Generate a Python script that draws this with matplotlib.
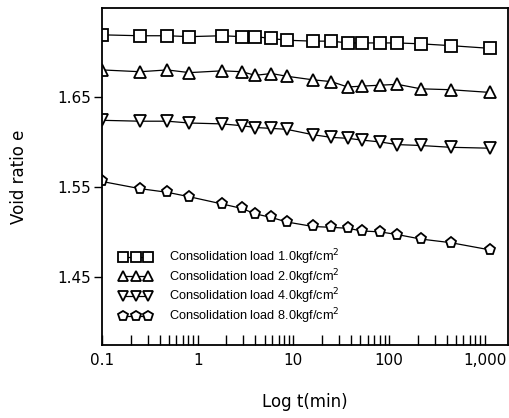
### void ratio vs log time for four consolidation loads
import matplotlib
matplotlib.use('Agg')
import matplotlib.pyplot as plt
from matplotlib.ticker import LogLocator, FixedLocator, NullFormatter

### elapsed time [min]
t_min = [0.1, 0.25, 0.48, 0.82, 1.8, 2.9, 4.0, 5.9, 8.5,
         16, 25, 37, 52, 80, 122, 215, 440, 1130]

### void ratio e for each load
e_load1 = [1.719, 1.718, 1.718, 1.717, 1.718, 1.717, 1.717, 1.715, 1.713,
           1.712, 1.712, 1.710, 1.710, 1.710, 1.710, 1.709, 1.707, 1.704]
e_load2 = [1.680, 1.678, 1.680, 1.677, 1.679, 1.678, 1.674, 1.676, 1.673,
           1.669, 1.667, 1.661, 1.662, 1.663, 1.664, 1.659, 1.658, 1.655]
e_load4 = [1.624, 1.623, 1.623, 1.621, 1.620, 1.618, 1.616, 1.615, 1.614,
           1.608, 1.605, 1.604, 1.602, 1.600, 1.597, 1.596, 1.594, 1.593]
e_load8 = [1.556, 1.548, 1.544, 1.539, 1.531, 1.526, 1.520, 1.516, 1.511,
           1.506, 1.505, 1.504, 1.501, 1.500, 1.497, 1.492, 1.488, 1.480]

labels = ['Consolidation load 1.0kgf/cm$^2$',
          'Consolidation load 2.0kgf/cm$^2$',
          'Consolidation load 4.0kgf/cm$^2$',
          'Consolidation load 8.0kgf/cm$^2$']
markers = ['s', '^', 'v', 'p']

x_ticks = [0.1, 1, 10, 100, 1000]
x_ticklabels = ['0.1', '1', '10', '100', '1,000']
y_ticks = [1.45, 1.55, 1.65]

fig = plt.figure(figsize=(5.10, 4.18), dpi=100)
ax = fig.add_axes([0.2, 0.175, 0.796, 0.806])

for e, mk, lb in zip([e_load1, e_load2, e_load4, e_load8], markers, labels):
    ax.plot(t_min, e, color='black', lw=0.9, marker=mk, ms=8,
            mfc='white', mec='black', mew=1.3, label=lb)

ax.set_xscale('log')
ax.set_xlim(0.1, 1750)
ax.set_ylim(1.3744, 1.7489)

ax.xaxis.set_major_locator(FixedLocator(x_ticks))
ax.set_xticklabels(x_ticklabels)
ax.xaxis.set_minor_locator(LogLocator(base=10, subs=range(2, 10)))
ax.xaxis.set_minor_formatter(NullFormatter())
ax.set_yticks(y_ticks)
ax.set_yticklabels(['1.45', '1.55', '1.65'])

ax.tick_params(axis='x', which='both', direction='in', length=7, width=1.0,
               labelsize=11, pad=6)
ax.tick_params(axis='y', which='both', direction='out', length=6, width=1.0,
               labelsize=11, pad=2)
for sp in ax.spines.values():
    sp.set_linewidth(1.3)

ax.set_ylabel('Void ratio e', fontsize=12, labelpad=21)
ax.set_xlabel('Log t(min)', fontsize=12, labelpad=18)

ax.legend(loc='lower left', bbox_to_anchor=(0.02, 0.03), frameon=False,
          numpoints=3, markerscale=0.95, handlelength=2.6, handletextpad=1.3,
          labelspacing=0.0, borderaxespad=0.3,
          prop={'family': ['Liberation Sans', 'DejaVu Sans'], 'size': 9.2})

fig.savefig('out.png', dpi=100)
